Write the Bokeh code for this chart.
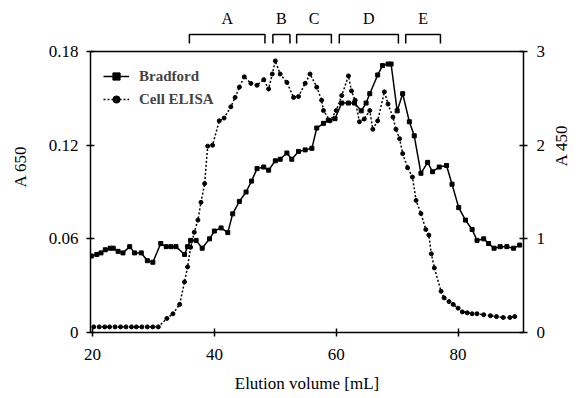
import math
from bokeh.plotting import figure
from bokeh.models import Range1d, LinearAxis, FixedTicker, Span, Legend, LegendItem
from bokeh.core.properties import value
from bokeh.embed import file_html
from bokeh.resources import INLINE

# Bradford protein assay (A 650, left axis)
bradford_volume = [19.8, 20.7, 21.4, 22.1, 22.9, 23.4, 24.2, 25.0, 26.1, 26.9, 28.0, 29.0, 29.9,
                   31.2, 32.1, 32.9, 33.7, 35.1, 35.6, 36.1, 37.0, 38.0, 39.2, 40.0, 41.1, 42.2,
                   43.0, 44.1, 45.2, 46.1, 47.0, 48.1, 48.9, 50.0, 50.8, 51.9, 52.7, 53.8, 54.9,
                   56.0, 56.8, 57.9, 58.7, 59.8, 60.9, 62.0, 63.0, 64.1, 64.9, 65.5, 66.8, 67.6,
                   68.5, 69.0, 70.0, 70.9, 72.0, 72.8, 73.9, 75.0, 75.8, 76.9, 78.1, 79.0, 80.1,
                   81.2, 82.3, 83.1, 84.2, 85.0, 85.9, 86.9, 88.0, 89.1, 90.1]
bradford_a650 = [0.049, 0.050, 0.051, 0.053, 0.054, 0.054, 0.052, 0.051, 0.055, 0.051, 0.051, 0.046, 0.045,
                 0.057, 0.055, 0.055, 0.055, 0.050, 0.055, 0.059, 0.059, 0.054, 0.060, 0.065, 0.067, 0.064,
                 0.076, 0.084, 0.090, 0.097, 0.105, 0.106, 0.104, 0.110, 0.111, 0.115, 0.111, 0.116, 0.117,
                 0.118, 0.131, 0.134, 0.136, 0.137, 0.147, 0.147, 0.147, 0.142, 0.147, 0.153, 0.165, 0.171,
                 0.172, 0.172, 0.142, 0.153, 0.135, 0.126, 0.102, 0.109, 0.103, 0.106, 0.107, 0.095, 0.080,
                 0.072, 0.066, 0.059, 0.060, 0.057, 0.054, 0.055, 0.055, 0.054, 0.056]

# Cell ELISA (A 450, right axis)
elisa_volume = [20.2, 21.1, 22.0, 22.8, 23.7, 24.6, 25.5, 26.4, 27.2, 28.1, 29.0, 29.9, 30.8,
                32.2, 33.2, 34.3, 35.1, 35.6, 36.1, 36.7, 37.3, 37.8, 38.4, 38.9, 39.7, 40.8,
                41.6, 42.7, 43.4, 44.1, 44.9, 46.0, 47.0, 48.1, 48.9, 49.5, 50.0, 50.8, 51.9,
                53.0, 53.8, 54.9, 55.7, 56.8, 57.6, 57.9, 59.0, 60.0, 60.9, 62.0, 62.5, 63.1,
                63.8, 64.6, 65.5, 66.0, 66.8, 67.9, 68.5, 69.3, 69.8, 70.4, 70.9, 71.7, 72.5,
                73.1, 73.9, 74.7, 75.2, 75.6, 76.1, 77.2, 77.7, 78.5, 79.2, 80.0, 80.7, 81.5,
                82.3, 83.1, 84.2, 85.3, 86.3, 87.4, 88.5, 89.3]
elisa_a450 = [0.06, 0.06, 0.06, 0.06, 0.06, 0.06, 0.06, 0.06, 0.06, 0.06, 0.06, 0.06, 0.06,
              0.15, 0.20, 0.30, 0.54, 0.70, 0.91, 1.07, 1.20, 1.39, 1.59, 1.99, 2.00, 2.26,
              2.29, 2.41, 2.51, 2.62, 2.73, 2.66, 2.64, 2.70, 2.60, 2.76, 2.90, 2.76, 2.67,
              2.51, 2.52, 2.66, 2.76, 2.62, 2.48, 2.37, 2.26, 2.37, 2.53, 2.74, 2.58, 2.48,
              2.25, 2.28, 2.37, 2.17, 2.26, 2.57, 2.44, 2.30, 2.17, 2.07, 1.91, 1.76, 1.66,
              1.41, 1.27, 1.10, 1.04, 0.84, 0.69, 0.44, 0.37, 0.33, 0.30, 0.26, 0.22, 0.21,
              0.20, 0.20, 0.19, 0.18, 0.17, 0.16, 0.16, 0.17]

# Pooled fractions
fraction_labels = ["A", "B", "C", "D", "E"]
fraction_start = [35.9, 49.6, 53.5, 60.5, 71.4]
fraction_end = [48.3, 52.4, 59.2, 70.2, 77.1]

x_ticks = [20, 40, 60, 80]
left_ticks = [0, 0.06, 0.12, 0.18]
left_tick_labels = ["0", "0.06", "0.12", "0.18"]
right_ticks = [0, 1, 2, 3]

SERIF = "Liberation Serif"
Y_TOP = 0.2127

p = figure(width=583, height=398, output_backend="svg", toolbar_location=None,
           x_range=Range1d(19.67, 90.73), y_range=Range1d(0, Y_TOP),
           min_border_left=90, min_border_right=56, min_border_top=0, min_border_bottom=66)
p.outline_line_color = None
p.grid.visible = False
p.extra_y_ranges = {"elisa": Range1d(0, Y_TOP / 0.06)}


def style_axis(ax):
    ax.axis_line_width = 1.5
    ax.axis_line_color = "black"
    ax.major_tick_in = 4
    ax.major_tick_out = 4
    ax.major_tick_line_width = 1.5
    ax.minor_tick_line_color = None
    ax.major_label_text_font = SERIF
    ax.major_label_text_font_size = "17px"
    ax.major_label_text_color = "black"
    ax.axis_label_text_font = SERIF
    ax.axis_label_text_font_size = "17px"
    ax.axis_label_text_font_style = "normal"
    ax.axis_label_text_color = "black"


xa = p.xaxis[0]
style_axis(xa)
xa.ticker = FixedTicker(ticks=x_ticks)
xa.axis_label = "Elution volume [mL]"
xa.major_label_standoff = 12
xa.axis_label_standoff = 11

ya = p.yaxis[0]
style_axis(ya)
ya.ticker = FixedTicker(ticks=left_ticks)
ya.major_label_overrides = {t: s for t, s in zip(left_ticks, left_tick_labels)}
ya.bounds = (0, 0.18)
ya.axis_label = "A 650"
ya.major_label_standoff = 8
ya.axis_label_standoff = 16

ra = LinearAxis(y_range_name="elisa")
style_axis(ra)
ra.ticker = FixedTicker(ticks=right_ticks)
ra.bounds = (0, 3)
ra.axis_label = "A 450"
ra.axis_label_orientation = math.pi / 2
ra.major_label_standoff = 9
ra.axis_label_standoff = 13
p.add_layout(ra, "right")

p.add_layout(Span(location=0.18, dimension="width", line_color="black", line_width=1.5))

l1 = p.line(bradford_volume, bradford_a650, line_color="black", line_width=1.5)
s1 = p.scatter(bradford_volume, bradford_a650, marker="square", size=4, color="black")
l2 = p.line(elisa_volume, elisa_a450, y_range_name="elisa", line_color="black",
            line_width=1.5, line_dash="2 2")
s2 = p.scatter(elisa_volume, elisa_a450, y_range_name="elisa", marker="circle", size=4,
               color="black")

# fraction brackets
b_low, b_high = 0.1851, 0.1909
xs = [[s, s, e, e] for s, e in zip(fraction_start, fraction_end)]
ys = [[b_low, b_high, b_high, b_low] for _ in fraction_start]
p.multi_line(xs, ys, line_color="black", line_width=1.5)
centers = [(s + e) / 2 for s, e in zip(fraction_start, fraction_end)]
p.text(x=centers, y=[0.2011] * len(centers), text=fraction_labels, text_align="center",
       text_baseline="middle", text_font=value(SERIF), text_font_size="16px",
       text_color="black")

legend = Legend(items=[LegendItem(label="Bradford", renderers=[l1, s1]),
                       LegendItem(label="Cell ELISA", renderers=[l2, s2])],
                location=(13, 224), border_line_color=None, background_fill_alpha=0,
                label_text_font=SERIF, label_text_font_style="bold",
                label_text_font_size="15px", glyph_width=26, glyph_height=18,
                label_height=18, spacing=5, padding=0, margin=0, label_standoff=10)
p.add_layout(legend)

open("out.html", "w").write(file_html(p, INLINE))
